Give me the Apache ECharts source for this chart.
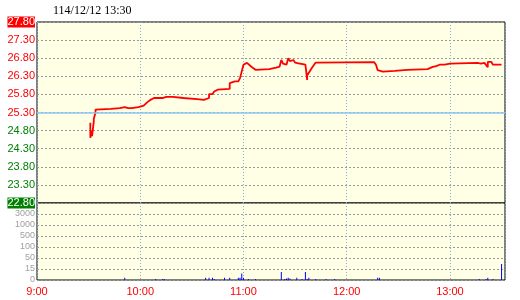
<!DOCTYPE html>
<html>
<head>
<meta charset="utf-8">
<script src="https://cdn.jsdelivr.net/npm/echarts@6/dist/echarts.min.js"></script>
<style>html,body{margin:0;padding:0;background:#fff;}#c{width:520px;height:300px;}</style>
</head>
<body>
<div id="c"></div>
<script>
var titleText = '114/12/12 13:30';
var priceTimes = ['9:31','9:31','9:32','9:32','9:33','9:33','9:34','9:34','9:35','9:43','9:44','9:48','9:49','9:51','9:51','9:52','9:53','9:55','9:56','9:59',
'10:00','10:02','10:03','10:04','10:05','10:06','10:08','10:13','10:14','10:15','10:19','10:19','10:25','10:25','10:33','10:34','10:37','10:38','10:40','10:40','10:42','10:43','10:45','10:46','10:52','10:52','10:55','10:57','10:58','10:59','10:59',
'11:00','11:01','11:02','11:05','11:06','11:07','11:08','11:15','11:16','11:19','11:20','11:21','11:22','11:23','11:24','11:25','11:26','11:27','11:28','11:29','11:30','11:30','11:32','11:33','11:36','11:37','11:37','11:38','11:40','11:42','11:43',
'12:16','12:17','12:18','12:19','12:21','12:22','12:28','12:29','12:35','12:36','12:47','12:48','12:50','12:52','12:54','12:57','12:58',
'13:00','13:01','13:16','13:17','13:18','13:20','13:21','13:22','13:22','13:24','13:25','13:30'];
var prices = [25.02,24.60,24.80,24.65,25.05,25.12,25.30,25.38,25.40,25.40,25.42,25.42,25.45,25.45,25.40,25.40,25.42,25.42,25.45,25.45,
25.49,25.49,25.54,25.58,25.61,25.65,25.70,25.70,25.74,25.73,25.73,25.70,25.70,25.67,25.67,25.65,25.65,25.70,25.70,25.81,25.81,25.88,25.93,25.95,25.95,26.11,26.16,26.16,26.25,26.28,26.20,
26.62,26.62,26.67,26.55,26.52,26.48,26.50,26.50,26.54,26.54,26.57,26.57,26.75,26.65,26.62,26.62,26.80,26.72,26.70,26.75,26.80,26.68,26.66,26.64,26.62,26.20,26.32,26.35,26.55,26.68,26.69,
26.69,26.62,26.47,26.43,26.43,26.45,26.45,26.48,26.48,26.50,26.50,26.53,26.56,26.58,26.62,26.62,26.65,
26.65,26.67,26.67,26.62,26.65,26.67,26.70,26.55,26.70,26.70,26.62,26.62];

var volTimes = ['9:51','10:09','10:13','10:14','10:38','10:40','10:42','10:43','10:49','10:52','10:57','10:58','10:59','11:00','11:03','11:07',
'11:22','11:24','11:25','11:26','11:27','11:31','11:34','11:36','11:37','11:38','11:42','11:48','11:53','12:18','12:19','13:17','13:21','13:22','13:25','13:30'];
var volumes = [3,1.5,1.5,1.5,3,3,3,1.5,3,3,3,3,9,3,1.5,1.5,
11,1.5,2,3,2,3,1.5,11,1.5,3,1.5,1.5,1.5,3,3,1.5,1.5,3,1.5,31];

var priceTicks = [22.80,23.30,23.80,24.30,24.80,25.30,25.80,26.30,26.80,27.30,27.80];
var refPrice = 25.30;
var volTickLabels = ['0','15','50','100','500','1000','3000'];
var volBreaks = [0,15,50,100,500,1000,3000];
var xTickLabels = ['9:00','10:00','11:00','12:00','13:00'];

function toMin(t){var p=t.split(':');return (parseInt(p[0],10)-9)*60+parseInt(p[1],10);}
function volLevel(v){
  for(var i=0;i<volBreaks.length-1;i++){
    if(v<=volBreaks[i+1]) return i+(v-volBreaks[i])/(volBreaks[i+1]-volBreaks[i]);
  }
  return volBreaks.length-1;
}
var priceData = priceTimes.map(function(t,i){return [toMin(t),prices[i]];});
var volData = volTimes.map(function(t,i){return [toMin(t),volLevel(volumes[i])];});

var FONT = "'Liberation Sans',sans-serif";
var FS = 11;
var chart = echarts.init(document.getElementById('c'), null, {renderer:'canvas'});
chart.setOption({
  animation:false,
  backgroundColor:'#ffffff',
  title:{text:titleText,left:48,top:0,textStyle:{fontFamily:"'Liberation Serif',serif",fontSize:12,fontWeight:'normal',color:'#000'}},
  grid:[
    {left:37,right:15,top:22,height:181,show:true,backgroundColor:'#FFFFE6',borderColor:'#000',borderWidth:1},
    {left:37,right:15,top:203,height:77,show:true,backgroundColor:'#FFFFE6',borderColor:'#000',borderWidth:1}
  ],
  xAxis:[
    {type:'value',gridIndex:0,min:0,max:272,interval:60,axisLine:{show:false},axisTick:{show:false},axisLabel:{show:false},
     splitLine:{show:true,lineStyle:{color:'#80AEDC',type:[1,2],width:1}}},
    {type:'value',gridIndex:1,min:0,max:272,interval:60,axisLine:{show:false},axisTick:{show:false},
     axisLabel:{show:true,margin:6,color:'#FF0000',fontFamily:FONT,fontSize:FS,showMaxLabel:false,
       formatter:function(v){var i=Math.round(v/60);return xTickLabels[i]||'';}},
     splitLine:{show:true,lineStyle:{color:'#80AEDC',type:[1,2],width:1}}}
  ],
  yAxis:[
    {type:'value',gridIndex:0,min:priceTicks[0],max:priceTicks[priceTicks.length-1],interval:0.5,
     axisLine:{show:false},axisTick:{show:false},
     splitLine:{show:true,lineStyle:{color:'#999999',type:[2,2],width:1}},
     axisLabel:{show:true,margin:2,showMinLabel:true,showMaxLabel:true,fontFamily:FONT,fontSize:FS,
       formatter:function(v){var s=v.toFixed(2);
         if(Math.abs(v-priceTicks[priceTicks.length-1])<1e-6) return '{hr|'+s+'}';
         if(Math.abs(v-priceTicks[0])<1e-6) return '{hg|'+s+'}';
         return v>=refPrice-1e-6?'{r|'+s+'}':'{g|'+s+'}';},
       rich:{
         r:{color:'#FF0000',fontFamily:FONT,fontSize:FS},
         g:{color:'#008000',fontFamily:FONT,fontSize:FS},
         hr:{color:'#ffffff',backgroundColor:'#FF0000',fontFamily:FONT,fontSize:FS,padding:[0,0,0,0]},
         hg:{color:'#ffffff',backgroundColor:'#008000',fontFamily:FONT,fontSize:FS,padding:[0,0,0,0]}
       }}},
    {type:'value',gridIndex:1,min:0,max:7,interval:1,axisLine:{show:false},axisTick:{show:false},
     splitLine:{show:true,lineStyle:{color:'#999999',type:[2,2],width:1}},
     axisLabel:{show:true,margin:2,color:'#A0A0A0',fontFamily:FONT,fontSize:9,
       formatter:function(v){var i=Math.round(v);return volTickLabels[i]||'';}}}
  ],
  series:[
    {type:'line',xAxisIndex:0,yAxisIndex:0,data:priceData,showSymbol:false,symbol:'none',
     lineStyle:{color:'#FF0000',width:1.8},
     markLine:{silent:true,symbol:'none',label:{show:false},lineStyle:{color:'#8CC8F0',type:'solid',width:1.5},data:[{yAxis:refPrice}]}},
    {type:'bar',xAxisIndex:1,yAxisIndex:1,data:volData,barWidth:1,itemStyle:{color:'#0000FF'}}
  ]
});
</script>
</body>
</html>
